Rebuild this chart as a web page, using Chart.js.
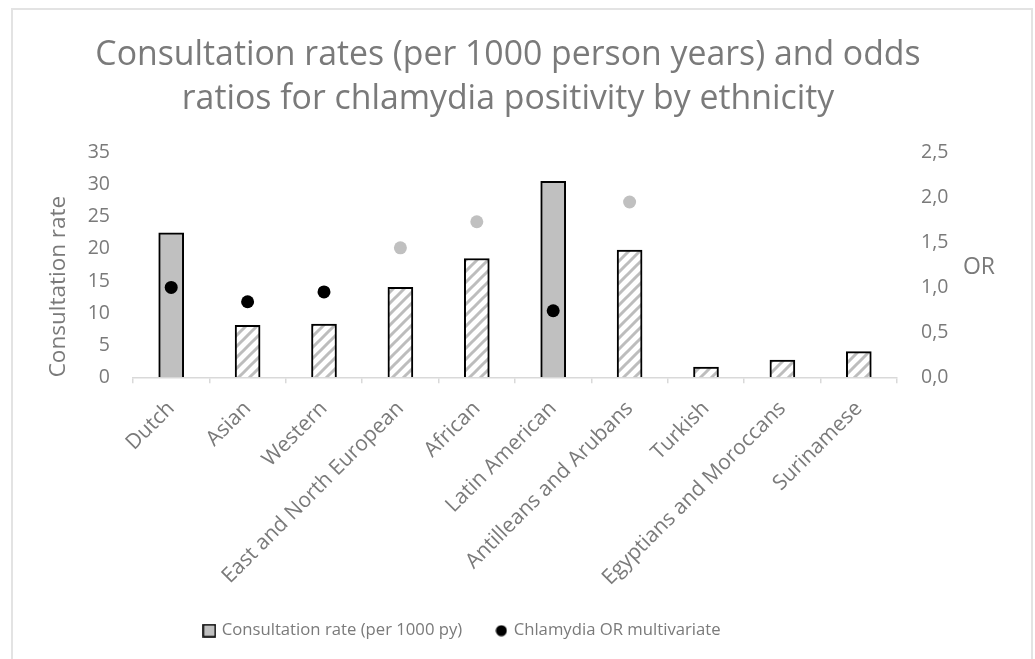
<!DOCTYPE html>
<html>
<head>
<meta charset="utf-8">
<script src="https://cdn.jsdelivr.net/npm/chart.js@4.4.1/dist/chart.umd.min.js"></script>
<style>
  body { margin: 0; background: #fff; }
  #frame {
    position: absolute; left: 11px; top: 8px; width: 1022px; height: 700px;
    border: 2px solid #e3e3e3; box-sizing: border-box;
  }
  #wrap { position: absolute; left: 0; top: 0; width: 1035px; height: 659px; }
</style>
</head>
<body>
<div id="frame"></div>
<div id="wrap"><canvas id="chartCanvas" width="1035" height="659"></canvas></div>
<script>
const categories = [
  "Dutch", "Asian", "Western", "East and North European", "African",
  "Latin American", "Antilleans and Arubans", "Turkish",
  "Egyptians and Moroccans", "Surinamese",
];
const consultationRate = [22.5, 8.1, 8.3, 14.0, 18.5, 30.5, 19.8, 1.6, 2.7, 4.0];
const chlamydiaOR = [1.0, 0.84, 0.95, 1.44, 1.73, 0.74, 1.95, null, null, null];
// which bars are plain grey (the rest are hatched)
const solidBar = [true, false, false, false, false, true, false, false, false, false];
// which OR dots are black (the rest are light grey)
const darkDot = [true, true, true, false, false, true, false, false, false, false];
const leftTicks = [0, 5, 10, 15, 20, 25, 30, 35];
const rightTicks = [0, 0.5, 1.0, 1.5, 2.0, 2.5];

const TEXT = "#7a7a7a";
Chart.defaults.font.family = "'Open Sans', sans-serif";
Chart.defaults.color = TEXT;

// diagonal hatch fill
function makeHatch() {
  const s = 11;
  const c = document.createElement("canvas");
  c.width = s; c.height = s;
  const g = c.getContext("2d");
  g.fillStyle = "#ffffff";
  g.fillRect(0, 0, s, s);
  g.strokeStyle = "#bdbdbd";
  g.lineWidth = 3;
  g.beginPath();
  g.moveTo(-2, s + 2); g.lineTo(s + 2, -2);
  g.moveTo(-2, 2); g.lineTo(2, -2);
  g.moveTo(s - 2, s + 2); g.lineTo(s + 2, s - 2);
  g.stroke();
  return g.createPattern(c, "repeat");
}
const hatch = makeHatch();

function legendSquare() {
  const c = document.createElement("canvas");
  c.width = 14; c.height = 14;
  const g = c.getContext("2d");
  g.fillStyle = "#c0c0c0";
  g.fillRect(1, 1, 12, 12);
  g.strokeStyle = "#000";
  g.lineWidth = 1.6;
  g.strokeRect(1, 1, 12, 12);
  return c;
}
function legendDot() {
  const c = document.createElement("canvas");
  c.width = 12; c.height = 12;
  const g = c.getContext("2d");
  g.fillStyle = "#000";
  g.beginPath();
  g.arc(6, 6, 5.5, 0, Math.PI * 2);
  g.fill();
  return c;
}
const sq = legendSquare();
const dot = legendDot();

// "OR" title drawn horizontally next to the right axis
const orTitle = {
  id: "orTitle",
  afterDraw(chart) {
    const { ctx, chartArea } = chart;
    ctx.save();
    ctx.fillStyle = TEXT;
    ctx.font = "23px 'Open Sans', sans-serif";
    ctx.textAlign = "center";
    ctx.textBaseline = "middle";
    ctx.fillText("OR", 979, (chartArea.top + chartArea.bottom) / 2 + 3);
    ctx.restore();
  },
};

// title and legend sit a bit left of the canvas centre
const shiftBoxes = {
  id: "shiftBoxes",
  afterUpdate(chart) {
    const lg = chart.legend;
    if (lg) {
      lg.left -= 61;
      lg.right -= 61;
      lg.adjustHitBoxes();
    }
    const tb = chart.titleBlock;
    if (tb) {
      tb.left -= 16;
      tb.right -= 16;
    }
  },
};

let ctx = document.getElementById("chartCanvas").getContext("2d");
const chart = new Chart(ctx, {
  data: {
    labels: categories,
    datasets: [
      {
        type: "line",
        label: "Chlamydia OR multivariate",
        data: chlamydiaOR,
        yAxisID: "y1",
        showLine: false,
        pointRadius: 6.5,
        pointHoverRadius: 6.5,
        pointBorderWidth: 0,
        pointBackgroundColor: darkDot.map((d) => (d ? "#000000" : "#c0c0c0")),
        pointBorderColor: darkDot.map((d) => (d ? "#000000" : "#c0c0c0")),
        order: 0,
      },
      {
        type: "bar",
        label: "Consultation rate (per 1000 py)",
        data: consultationRate,
        yAxisID: "y",
        backgroundColor: solidBar.map((s) => (s ? "#c0c0c0" : hatch)),
        borderColor: "#000000",
        borderWidth: 2,
        barThickness: 25,
        order: 1,
      },
    ],
  },
  options: {
    responsive: false,
    animation: false,
    layout: { padding: { left: 41, right: 28, top: 0, bottom: 10 } },
    scales: {
      x: {
        offset: true,
        grid: {
          display: true,
          drawOnChartArea: false,
          color: "#d9d9d9",
          tickLength: 6,
          lineWidth: 1.5,
        },
        border: { color: "#d9d9d9", width: 1.5 },
        ticks: {
          autoSkip: false,
          minRotation: 45,
          maxRotation: 45,
          padding: 13,
          font: { size: 21 },
        },
        afterFit: (s) => { s.height = 235; },
      },
      y: {
        position: "left",
        min: 0,
        max: 35,
        afterBuildTicks: (s) => { s.ticks = leftTicks.map((v) => ({ value: v })); },
        grid: { display: false, drawTicks: false },
        border: { display: false },
        ticks: { padding: 23, font: { size: 19.5 } },
        title: {
          display: true,
          text: "Consultation rate",
          align: "start",
          font: { size: 22.5 },
          padding: { top: 4, bottom: 4 },
        },
        afterFit: (s) => { s.width = 92; },
      },
      y1: {
        position: "right",
        min: 0,
        max: 2.5,
        afterBuildTicks: (s) => { s.ticks = rightTicks.map((v) => ({ value: v })); },
        grid: { display: false, drawTicks: false },
        border: { display: false },
        ticks: {
          padding: 24,
          font: { size: 19.5 },
          callback: (v) => Number(v).toFixed(1).replace(".", ","),
        },
        afterFit: (s) => { s.width = 110; },
      },
    },
    plugins: {
      title: {
        display: true,
        text: [
          "Consultation rates (per 1000 person years) and odds",
          "ratios for chlamydia positivity by ethnicity",
        ],
        font: { size: 33.8, weight: "normal", lineHeight: 1.28 },
        color: TEXT,
        padding: { top: 34, bottom: 32 },
      },
      legend: {
        position: "bottom",
        labels: {
          usePointStyle: true,
          boxWidth: 8,
          boxHeight: 13,
          padding: 10,
          font: { size: 16.7 },
          color: TEXT,
          generateLabels: () => [
            // en spaces widen the gap before the second entry
            { text: "Consultation rate (per 1000 py)\u2002\u2002\u2002", pointStyle: sq, fillStyle: "#c0c0c0", strokeStyle: "#000", lineWidth: 0, datasetIndex: 1, fontColor: TEXT },
            { text: "Chlamydia OR multivariate", pointStyle: dot, fillStyle: "#000", strokeStyle: "#000", lineWidth: 0, datasetIndex: 0, fontColor: TEXT },
          ],
        },
      },
      tooltip: { enabled: false },
    },
  },
  plugins: [orTitle, shiftBoxes],
});
</script>
</body>
</html>
